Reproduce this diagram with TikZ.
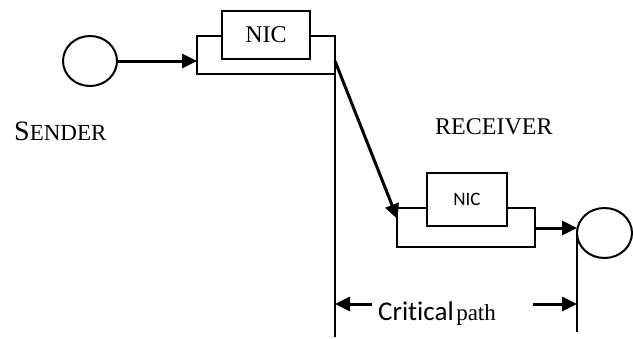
\documentclass[tikz,border=0pt]{standalone}
\usepackage{fontspec}
\setmainfont{Liberation Serif}
\newfontfamily\cbr[Ligatures={NoCommon}]{Carlito}
\usetikzlibrary{arrows.meta,shapes.geometric}
\begin{document}
\begin{tikzpicture}[x=1pt,y=-1pt,
  boxline/.style={line width=2pt},
  arr/.style={line width=3pt,-{Triangle[length=15pt,width=14pt]}},
  circ/.style={ellipse,draw,line width=2pt,minimum width=54pt,minimum height=50pt,inner sep=0pt},
  nicbox/.style={draw,fill=white,line width=2pt,inner sep=0pt},
  lbl/.style={inner sep=0pt,anchor=base west}]
\useasboundingbox (0,0) rectangle (633,338);
% sender
\node[circ] (s) at (90,61) {};
\coordinate (so1) at (197,36);
\coordinate (so2) at (335,74);
\draw[boxline] (so1) rectangle (so2);
\node[nicbox,minimum width=88pt,minimum height=48pt,font=\fontsize{24}{28}\selectfont] (nic1) at (266,35) {NIC};
\coordinate (sin) at (197,61);
\draw[arr] (s.east) -- (sin);
% vertical line left
\coordinate (vlT) at (335,36);
\coordinate (vlB) at (335,337);
\draw[boxline] (vlT) -- (vlB);
% receiver
\coordinate (ro1) at (397,208);
\coordinate (ro2) at (535,247);
\draw[boxline] (ro1) rectangle (ro2);
\node[nicbox,minimum width=80pt,minimum height=53pt,font=\cbr\fontsize{19}{22}\selectfont] (nic2) at (467,199) {NIC};
\node[circ,minimum width=55pt] (r) at (604.5,233) {};
\coordinate (rout) at (535,228);
\coordinate (rin) at (577,228);
\draw[arr] (rout) -- (rin);
\coordinate (vrT) at (577,230);
\coordinate (vrB) at (577,332);
\draw[boxline] (vrT) -- (vrB);
% diagonal
\coordinate (dS) at (335,61);
\coordinate (dE) at (397.5,219);
\draw[arr] (dS) -- (dE);
% critical path
\coordinate (cpL) at (372,304);
\coordinate (cpLt) at (335,304);
\coordinate (cpR) at (533,304);
\coordinate (cpRt) at (577,304);
\draw[arr] (cpL) -- (cpLt);
\draw[arr] (cpR) -- (cpRt);
\node[lbl] (cp) at (378,320.7) {{\cbr\fontsize{27}{30}\selectfont Critical} {\fontsize{23}{26}\selectfont path}};
% labels
\node[lbl] (snd) at (14,140.7) {{\fontsize{28}{30}\selectfont S}{\fontsize{23}{26}\selectfont ENDER}};
\node[lbl,font=\fontsize{24}{28}\selectfont] (rcv) at (435,134.3) {RECEIVER};
\end{tikzpicture}
\end{document}
